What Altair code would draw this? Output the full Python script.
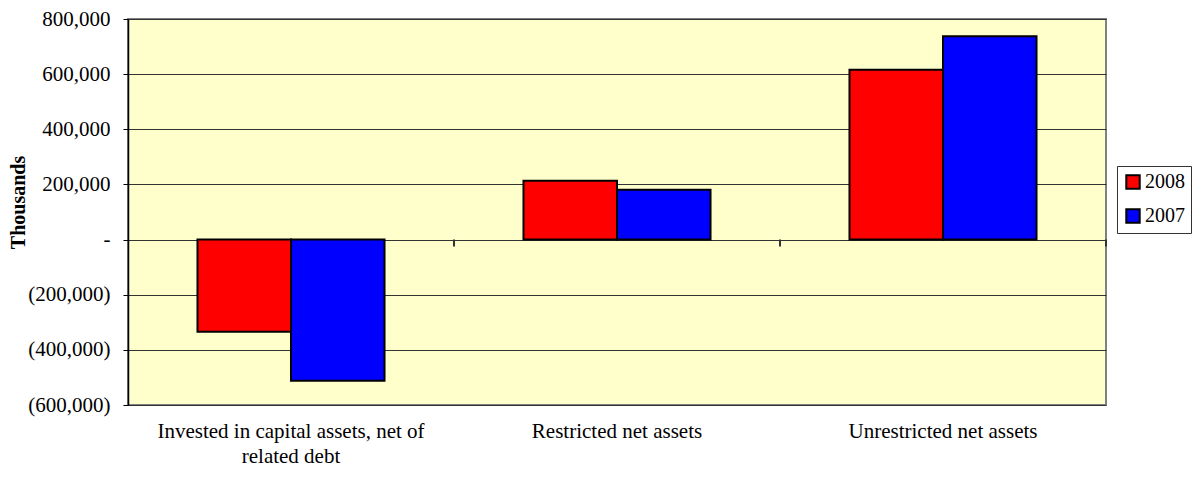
import altair as alt
import pandas as pd

categories = ["Invested in capital assets, net of related debt", "Restricted net assets", "Unrestricted net assets"]
years = ["2008", "2007"]
v2008 = [-334000, 213000, 616000]
v2007 = [-512000, 181000, 737000]
y_ticks = [-600000, -400000, -200000, 0, 200000, 400000, 600000, 800000]

rows = []
for c, a, b in zip(categories, v2008, v2007):
    rows.append({"cat": c, "year": "2008", "value": a})
    rows.append({"cat": c, "year": "2007", "value": b})
df = pd.DataFrame(rows)
tick_df = pd.DataFrame({"cat": categories})

FONT = "Liberation Serif, Times New Roman, serif"

x = alt.X("cat:N", sort=categories, title=None,
          scale=alt.Scale(paddingInner=0, paddingOuter=0),
          axis=alt.Axis(domain=False, ticks=False, labelAngle=0, labelFont=FONT,
                        labelFontSize=21, labelColor="black", labelPadding=15,
                        labelLineHeight=25, labelLimit=600,
                        labelExpr="datum.label == 'Invested in capital assets, net of related debt' ? ['Invested in capital assets, net of', 'related debt'] : datum.label"))

y_scale = alt.Scale(domain=[-600000, 800000], nice=False, zero=False)

bars = alt.Chart(df).mark_bar(stroke="black", strokeWidth=2).encode(
    x=x,
    xOffset=alt.XOffset("year:N", sort=years, scale=alt.Scale(paddingOuter=0.743, paddingInner=0)),
    y=alt.Y("value:Q", scale=y_scale, title="Thousands",
            axis=alt.Axis(values=y_ticks, grid=True, gridColor="#333333", gridWidth=1,
                          domainColor="black", domainWidth=1.5, tickColor="black", tickSize=5,
                          labelFont=FONT, labelFontSize=21, labelColor="black", labelPadding=13,
                          labelExpr="datum.value == 0 ? '- ' : (datum.value < 0 ? '(' + format(-datum.value, ',') + ')' : format(datum.value, ',') + ' ')",
                          titleFont=FONT, titleFontSize=20, titleFontWeight="bold", titleColor="black",
                          titleX=-109.5, titleY=183, titleAngle=270, titleBaseline="middle", titleAlign="center")),
    y2=alt.Y2(datum=0),
    color=alt.Color("year:N", sort=years,
                    scale=alt.Scale(domain=years, range=["#FF0000", "#0000FF"]),
                    legend=alt.Legend(title=None, orient="none", legendX=989, legendY=147,
                                      symbolType="square", symbolSize=180, symbolStrokeColor="black",
                                      symbolStrokeWidth=2, labelFont=FONT, labelFontSize=20,
                                      labelColor="black", fillColor="white", strokeColor="#333333",
                                      padding=6, rowPadding=12, labelOffset=2)),
)

ticks = alt.Chart(tick_df).mark_rule(color="#333333", strokeWidth=2).encode(
    x=alt.X("cat:N", sort=categories, bandPosition=1),
    y=alt.Y(datum=0, scale=y_scale),
    y2=alt.Y2(datum=-25000),
)

chart = alt.layer(bars, ticks).properties(
    width=978, height=386,
    autosize=alt.AutoSizeParams(type="none"),
    padding={"left": 120, "top": 11, "right": 86, "bottom": 64},
    background="white",
).configure_view(fill="#FFFFCC", stroke="#808080", strokeWidth=2
).configure_axis(labelFont=FONT, titleFont=FONT
).configure_legend(labelFont=FONT)

chart.save("out.html", embed_options={"renderer": "svg", "actions": False})
